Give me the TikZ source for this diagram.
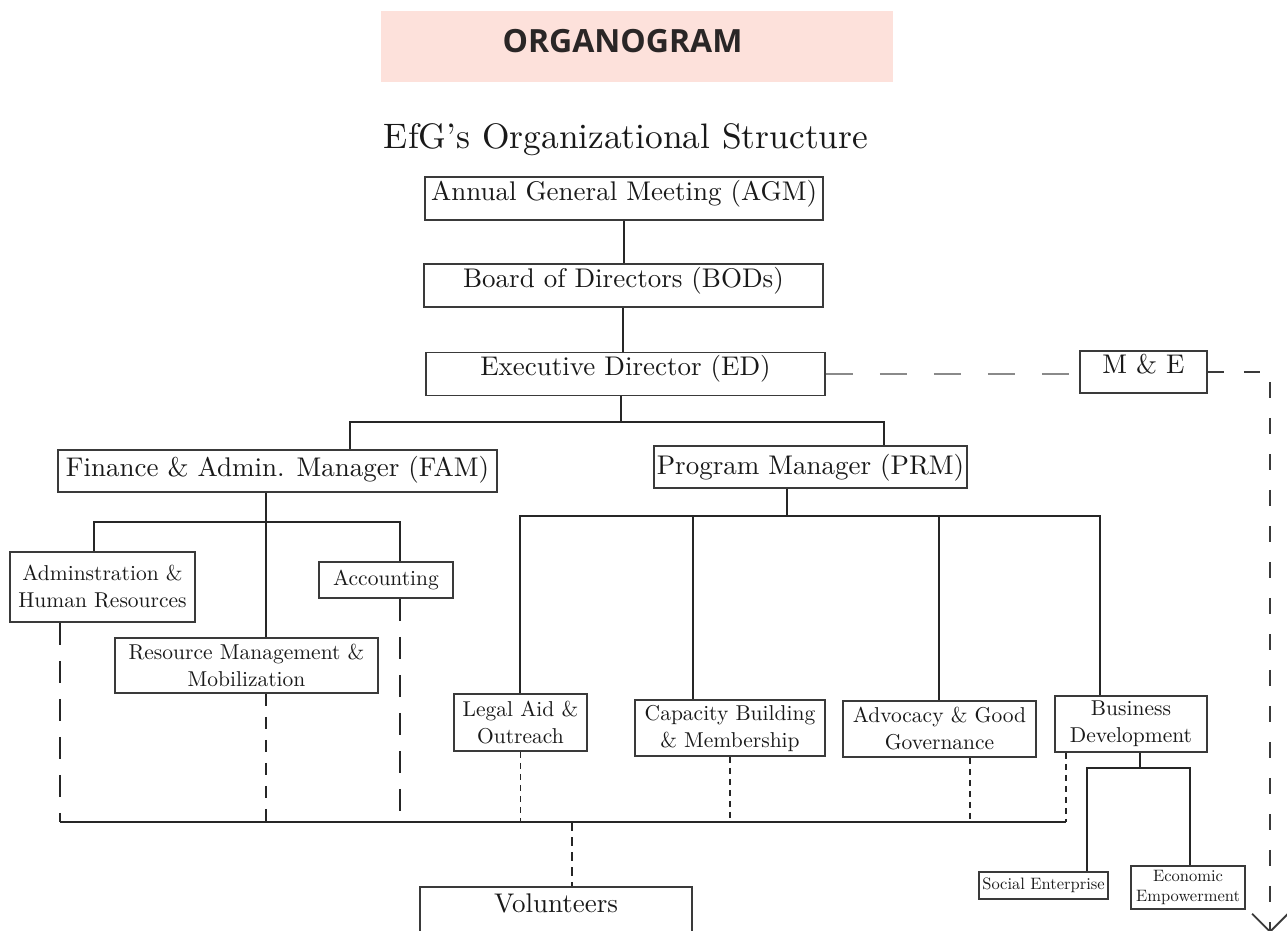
\documentclass[tikz,border=0pt]{standalone}
\usepackage{fontspec}
\setmainfont{lmroman10-regular.otf}[BoldFont=lmroman10-bold.otf, ItalicFont=lmroman10-italic.otf]
\newfontfamily\bannerfont{Open Sans}
\usetikzlibrary{arrows.meta}
\definecolor{bannerpink}{HTML}{FDE1DB}
\definecolor{bannerink}{HTML}{2A2626}
\definecolor{linegray}{HTML}{3A3A3A}
\definecolor{megray}{HTML}{8A8A8A}
\tikzset{
    unit/.style={
        rectangle, draw=linegray, line width=1.6pt, inner sep=0pt,
        align=center, text=black!90
    },
    big/.style={
        unit, font=\fontsize{27}{31}\selectfont,
        text height=23pt, text depth=20pt
    },
    mid/.style={
        unit, font=\fontsize{21.5}{27}\selectfont
    },
    small/.style={
        unit, font=\fontsize{16.5}{20}\selectfont
    },
    link/.style={
        draw=black!85, line width=1.7pt
    },
    longdash/.style={
        link, dash pattern=on 22pt off 16pt
    },
    middash/.style={
        link, dash pattern=on 12pt off 11pt
    },
    dotdash/.style={
        link, line width=1.4pt, dash pattern=on 6pt off 5pt
    },
    voldash/.style={
        link, line width=1.4pt, dash pattern=on 9pt off 6pt
    },
    medash/.style={
        draw=megray, line width=1.8pt, dash pattern=on 27pt off 27pt
    },
    sidedash/.style={
        draw=linegray, line width=1.4pt, dash pattern=on 16pt off 20pt
    }
}

\begin{document}
\begin{tikzpicture}[x=1pt, y=-1pt]
        \useasboundingbox (0,0) rectangle (1287,931);

        % Heading

        \node[fill=bannerpink, minimum width=512, minimum height=71, inner sep=0pt] (banner) at (637,46.5) {};
        \node[anchor=base, font=\bannerfont\bfseries\fontsize{32}{35}\selectfont, text=bannerink] (orgtext) at (622.5,53) {ORGANOGRAM};
        \node[anchor=base, font=\fontsize{35.4}{40}\selectfont, text=black!90] (title) at (626,148) {EfG's Organizational Structure};

        % Top of the structure

        \node[big, minimum width=398] (agm) at (624,198.5)  {Annual General Meeting (AGM)};
        \node[big, minimum width=399] (bod) at (623.5,285.5) {Board of Directors (BODs)};
        \node[big, minimum width=399] (ed)  at (625.5,374)  {Executive Director (ED)};
        \node[big, minimum width=127, text height=22pt] (me) at (1143.5,372) {M \& E};

        \coordinate (bodtap) at (623,330);
        \draw[link] (agm) -- (agm |- bod.north);
        \draw[link] (bod.south -| bodtap) -- (ed.north -| bodtap);

        % M & E line

        \coordinate (meend) at (1270,933);
        \draw[medash] (ed.east) -- (ed.east -| me.west);
        \draw[sidedash, -{Straight Barb[length=18pt, width=36pt, line width=1.8pt]}] (me.east) -| (meend);

        % Managers

        \node[big, minimum width=439, text height=26pt, text depth=16pt] (fam) at (277.5,471) {Finance \& Admin. Manager (FAM)};
        \node[big, minimum width=313, text height=28pt, text depth=14pt] (prm) at (810.5,467) {Program Manager (PRM)};

        \coordinate (edfm) at (621,422);
        \coordinate (edfl) at (350,422);
        \coordinate (edfr) at (884,422);
        \draw[link] (ed.south -| edfm) -- (edfm);
        \draw[link] (fam.north -| edfl) -- (edfl) -- (edfr) -- (prm.north -| edfr);

        % Finance and admin units

        \node[mid, minimum width=185, minimum height=70] (ahr)  at (102.5,587) {Adminstration \&\\Human Resources};
        \node[mid, minimum width=134, text height=23pt, text depth=13pt] (acc) at (386,580) {Accounting};
        \node[mid, minimum width=263, minimum height=55] (rmm)  at (246.5,665.5) {Resource Management \&\\Mobilization};

        \coordinate (famfl) at (94,522);
        \coordinate (famfm) at (266,522);
        \coordinate (famfr) at (400,522);
        \draw[link] (fam.south -| famfm) -- (rmm.north -| famfm);
        \draw[link] (ahr.north -| famfl) -- (famfl) -- (famfr) -- (acc.north -| famfr);

        % Program units

        \node[mid, minimum width=133, minimum height=57] (legal) at (520.5,722.5) {Legal Aid \&\\Outreach};
        \node[mid, minimum width=190, minimum height=56] (cap)   at (730,728)     {Capacity Building\\\& Membership};
        \node[mid, minimum width=193, minimum height=56] (adv)   at (939.5,729)   {Advocacy \& Good\\Governance};
        \node[mid, minimum width=152, minimum height=56] (bd)    at (1131,724)    {Business\\Development};

        \coordinate (prmf)  at (787,516);
        \coordinate (prmfl) at (520,516);
        \coordinate (prmfb) at (693,516);
        \coordinate (prmfc) at (939,516);
        \coordinate (prmfr) at (1100,516);
        \draw[link] (prm.south -| prmf) -- (prmf);
        \draw[link] (legal.north -| prmfl) -- (prmfl) -- (prmfr) -- (bd.north -| prmfr);
        \draw[link] (cap.north -| prmfb) -- (prmfb);
        \draw[link] (adv.north -| prmfc) -- (prmfc);

        % Business development units

        \node[small, minimum width=129, minimum height=27] (soc)  at (1043.5,885.5) {Social Enterprise};
        \node[small, minimum width=114, minimum height=43] (econ) at (1188,887.5)   {Economic\\Empowerment};

        \coordinate (bdf)  at (1140,768);
        \coordinate (bdfl) at (1087,768);
        \coordinate (bdfr) at (1190,768);
        \draw[link] (bd.south -| bdf) -- (bdf);
        \draw[link] (soc.north -| bdfl) -- (bdfl) -- (bdfr) -- (econ.north -| bdfr);

        % Volunteers

        \node[big, anchor=north, minimum width=272, text height=26pt, text depth=34pt] (vol) at (556,886) {Volunteers};

        \coordinate (busl) at (60,822);
        \coordinate (busr) at (1066,822);
        \coordinate (busv) at (572,822);
        \coordinate (busa) at (970,822);

        \draw[longdash] (ahr.south -| busl) -- (busl);
        \draw[middash]  (rmm.south -| famfm) -- (famfm |- busl);
        \draw[longdash] (acc.south -| famfr) -- (famfr |- busl);
        \draw[dotdash]  (legal.south) -- (legal.south |- busl);
        \draw[dotdash]  (cap.south) -- (cap.south |- busl);
        \draw[dotdash]  (adv.south -| busa) -- (busa);
        \draw[dotdash]  (bd.south -| busr) -- (busr);
        \draw[link] (busl) -- (busr);
        \draw[voldash] (busv) -- (vol.north -| busv);
    \end{tikzpicture}
\end{document}
